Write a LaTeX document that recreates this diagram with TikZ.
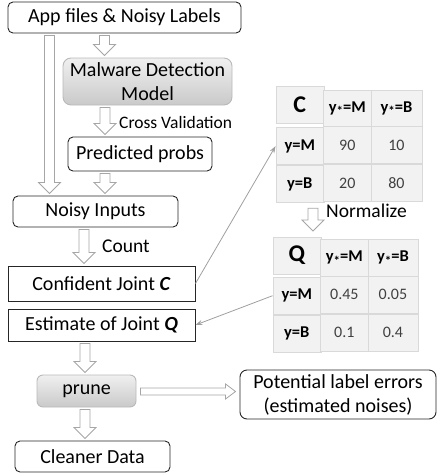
\documentclass[tikz,border=0pt]{standalone}
\usepackage{fontspec}
\setmainfont{Carlito}
\usetikzlibrary{positioning,calc,matrix,arrows.meta}
\tikzset{main node/.style={draw=black!85,line width=0.9pt,rounded corners=5pt,inner sep=0pt,align=center,font=\fontsize{20}{24}\selectfont},
  box node/.style={main node,rounded corners=0pt},
  gray node/.style={main node,draw=gray!55,top color=gray!12,bottom color=gray!42,rounded corners=8pt},
  label node/.style={anchor=west,inner sep=0pt,font=\fontsize{19.5}{22}\selectfont},
  hollow/.style={draw=gray!70,fill=white,line width=0.8pt},
  thin arrow/.style={draw=gray!75,line width=0.8pt,-{Stealth[length=7pt,width=5pt]}},
  cell/.style={draw=gray!30,fill=gray!10,inner sep=0pt,minimum width=48pt,minimum height=37pt,font=\fontsize{16}{18}\selectfont\color{black!75}},
  head/.style={font=\fontsize{16.5}{18}\bfseries},
  big/.style={font=\fontsize{24}{26}\bfseries},
}
\newcommand{\st}{\raisebox{-0.45ex}{\fontsize{13}{14}\selectfont *}}
\newcommand{\dar}[3]{\path[hollow] let \p1=(#1.south), \p2=(#2.north), \p3=(#3,0) in
  (\x3-5pt,\y1-2pt) -- (\x3+5pt,\y1-2pt) -- (\x3+5pt,\y2+13pt) -- (\x3+11pt,\y2+13pt) -- (\x3,\y2+2pt)
  -- (\x3-11pt,\y2+13pt) -- (\x3-5pt,\y2+13pt) -- cycle;}
\newcommand{\rar}[3]{\path[hollow] let \p1=(#1.east), \p2=(#2.west), \p3=(0,#3) in
  (\x1+4pt,\y3+3.5pt) -- (\x2-14pt,\y3+3.5pt) -- (\x2-14pt,\y3+7.5pt) -- (\x2-4pt,\y3)
  -- (\x2-14pt,\y3-7.5pt) -- (\x2-14pt,\y3-3.5pt) -- (\x1+4pt,\y3-3.5pt) -- cycle;}
\begin{document}
\begin{tikzpicture}[x=1pt,y=-1pt]
        \useasboundingbox (0,0) rectangle (437,475);

        \node[main node, minimum width=233pt, minimum height=31pt] (app) at (124.5,17.5) {App files \& Noisy Labels};
        \node[gray node, minimum width=169pt, minimum height=47pt] (model) at (147.5,81.5) {Malware Detection\\Model};
        \node[main node, minimum width=144pt, minimum height=34pt] (pred) at (140,154) {Predicted probs};
        \node[main node, minimum width=165pt, minimum height=31pt] (noisy) at (95.5,211.5) {Noisy Inputs};
        \node[box node, minimum width=187pt, minimum height=35pt] (conf) at (101.5,283.5) {Confident Joint \textbf{\textit{C}}};
        \node[box node, minimum width=187pt, minimum height=32pt] (est) at (101.5,325) {Estimate of Joint \textbf{\textit{Q}}};
        \node[gray node, minimum width=99pt, minimum height=32pt, rounded corners=6pt] (prune) at (86.5,391) {prune};
        \node[main node, minimum width=155pt, minimum height=31pt] (clean) at (92.5,456.5) {Cleaner Data};
        \node[main node, minimum width=196pt, minimum height=49pt, rounded corners=7pt] (pot) at (338,394.5) {Potential label errors\\(estimated noises)};

        \matrix (tabC) [matrix of nodes, anchor=north west, column sep=-0.8pt, row sep=-0.8pt,
          nodes={cell}, column 3/.style={nodes={minimum width=51pt}}] at (272,82) {
          |[big]| C & |[head]| y\st=M & |[head]| y\st=B \\
          |[head]| y=M & 90 & 10 \\
          |[head]| y=B & 20 & 80 \\
        };
        \matrix (tabQ) [matrix of nodes, anchor=north west, column sep=-0.8pt, row sep=-0.8pt,
          nodes={cell}, column 3/.style={nodes={minimum width=50pt}}] at (269,233) {
          |[big]| Q & |[head]| y\st=M & |[head]| y\st=B \\
          |[head]| y=M & 0.45 & 0.05 \\
          |[head]| y=B & 0.1 & 0.4 \\
        };

        \node[label node, font=\fontsize{17.5}{20}\selectfont] (cv) at (119,122) {Cross Validation};
        \node[label node] (count) at (102,246) {Count};
        \node[label node] (norm) at (326,211) {Normalize};

        \dar{app}{model}{104.5}
        \dar{app}{noisy}{49.5}
        \dar{model}{pred}{105}
        \dar{pred}{noisy}{105}
        \dar{noisy}{conf}{84}
        \dar{est}{prune}{85}
        \dar{prune}{clean}{85}
        \dar{tabC}{tabQ}{313}
        \rar{prune}{pot}{391.5}

        \draw[thin arrow] (conf.east) -- (tabC-2-1.west);
        \draw[thin arrow] (tabQ-2-1.west) -- (est.east);
    \end{tikzpicture}
\end{document}
